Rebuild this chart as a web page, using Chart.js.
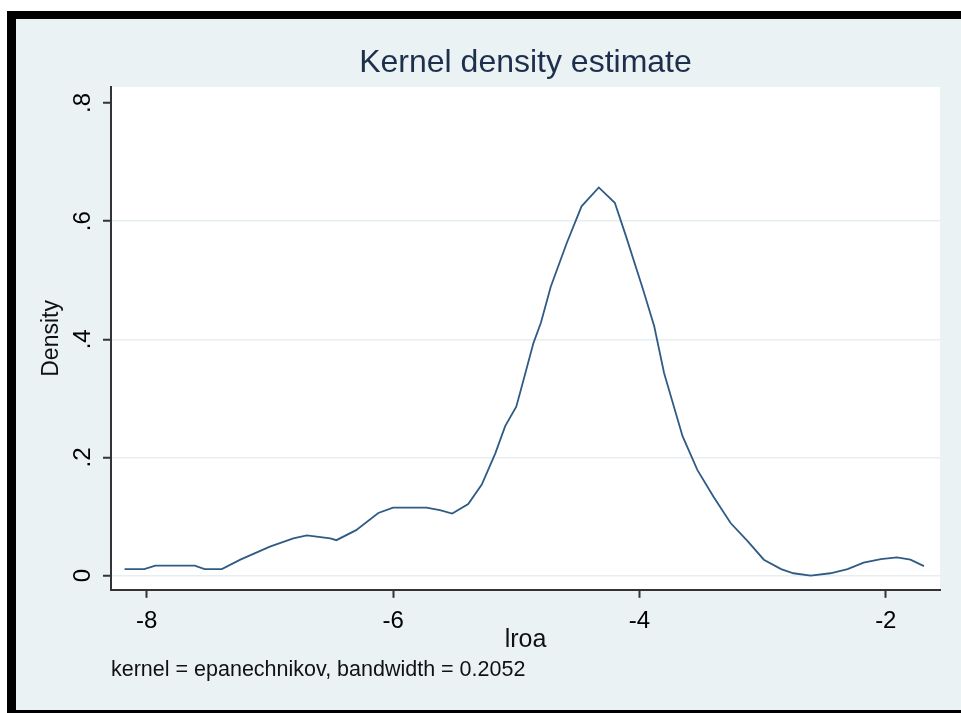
<!DOCTYPE html>
<html>
<head>
<meta charset="utf-8">
<title>Kernel density estimate</title>
<script src="https://cdn.jsdelivr.net/npm/chart.js@4.4.1/dist/chart.umd.min.js"></script>
<style>
  html, body { margin:0; padding:0; background:#fff; width:961px; height:713px; overflow:hidden; }
  /* Stata-style frame: black border top/left/bottom, light blue-grey graph region */
  #frame {
    position:absolute; left:7px; top:11px; width:954px; height:702px;
    box-sizing:border-box; background:#eaf2f3;
    border-top:8px solid #000; border-left:9px solid #000; border-bottom:3px solid #000;
  }
  #wrap { position:relative; width:945px; height:691px; }
</style>
</head>
<body>
<div id="frame"><div id="wrap"><canvas id="kde"></canvas></div></div>
<script>
/* ---------- data ---------- */
const KDE_X = [-8.18, -8.02, -7.93, -7.61, -7.53, -7.39, -7.24, -7.00, -6.81, -6.70,
               -6.51, -6.46, -6.30, -6.12, -6.00, -5.73, -5.62, -5.52, -5.39, -5.28,
               -5.17, -5.09, -5.00, -4.94, -4.86, -4.80, -4.72, -4.59, -4.47, -4.33, -4.20,
               -4.11, -3.97, -3.88, -3.80, -3.72, -3.65, -3.53, -3.40, -3.26, -3.12,
               -2.99, -2.85, -2.75, -2.61, -2.45, -2.31, -2.18, -2.04, -1.91, -1.80, -1.69];
const KDE_Y = [0.011, 0.011, 0.017, 0.017, 0.011, 0.011, 0.027, 0.049, 0.063, 0.068,
               0.063, 0.060, 0.077, 0.106, 0.115, 0.115, 0.111, 0.105, 0.121, 0.154,
               0.207, 0.253, 0.286, 0.332, 0.394, 0.428, 0.489, 0.563, 0.625, 0.657, 0.631,
               0.575, 0.484, 0.422, 0.343, 0.286, 0.236, 0.179, 0.134, 0.089, 0.058,
               0.027, 0.011, 0.004, 0.000, 0.004, 0.011, 0.022, 0.028, 0.031, 0.027, 0.016];

const X_TICKS = [-8, -6, -4, -2];
const Y_TICKS = [0, 0.2, 0.4, 0.6, 0.8];
const Y_TICK_LABELS = ['0', '.2', '.4', '.6', '.8'];

const TITLE = 'Kernel density estimate';
const X_TITLE = 'lroa';
const Y_TITLE = 'Density';
const NOTE = 'kernel = epanechnikov, bandwidth = 0.2052';

const FONT = "'Liberation Sans', Arial, sans-serif";
const LINE = '#2f5b85';
const AXIS = '#333';

// white plot region behind the curve
const plotBg = {
  id:'plotBg',
  beforeDraw(chart){
    const {ctx, chartArea:a} = chart;
    ctx.save();
    ctx.fillStyle = '#fff';
    ctx.fillRect(a.left, a.top, a.right - a.left, a.bottom - a.top);
    ctx.restore();
  }
};

new Chart(document.getElementById('kde'), {
  type:'line',
  data:{
    datasets:[{
      data: KDE_X.map((x, i) => ({x, y: KDE_Y[i]})),
      borderColor: LINE, borderWidth: 1.8,
      pointRadius: 0, tension: 0, fill: false
    }]
  },
  options:{
    responsive:true, maintainAspectRatio:false, animation:false,
    layout:{padding:{top:0, left:0, right:21, bottom:0}},
    plugins:{
      legend:{display:false}, tooltip:{enabled:false},
      title:{
        display:true, text:TITLE, fullSize:false, color:'#1e2f4d',
        font:{family:FONT, size:32, weight:'normal'},
        padding:{top:25.2, bottom:4.4}
      },
      subtitle:{
        display:true, text:NOTE, position:'bottom', align:'start', fullSize:false,
        color:'#111', font:{family:FONT, size:21.5, weight:'normal'},
        padding:{top:0, bottom:27}
      }
    },
    scales:{
      x:{
        type:'linear', min:-8.29, max:-1.56,
        afterBuildTicks: s => { s.ticks = X_TICKS.map(v => ({value:v})); },
        afterFit: s => { s.height = 67.4; },
        border:{display:true, color:AXIS, width:2},
        grid:{drawOnChartArea:false, drawTicks:true, tickLength:8, tickColor:AXIS, tickWidth:2},
        ticks:{color:'#000', font:{family:FONT, size:24}, padding:9, autoSkip:false, maxRotation:0,
               callback: v => String(v)},
        title:{display:true, text:X_TITLE, color:'#111', font:{family:FONT, size:25},
               padding:{top:0, bottom:2.4}}
      },
      y:{
        type:'linear', min:-0.024, max:0.827,
        afterBuildTicks: s => { s.ticks = Y_TICKS.map(v => ({value:v})); },
        afterFit: s => { s.width = 95; },
        border:{display:true, color:AXIS, width:2},
        grid:{
          color: c => (c.tick && c.tick.value === 0.8) ? 'rgba(0,0,0,0)' : '#e6eef1',
          lineWidth:1.5, drawTicks:true, tickLength:8, tickColor:AXIS, tickWidth:2
        },
        ticks:{color:'#000', font:{family:FONT, size:24}, padding:9.5, autoSkip:false,
               minRotation:90, maxRotation:90, crossAlign:'center',
               callback: v => Y_TICK_LABELS[Y_TICKS.indexOf(v)] ?? ''},
        title:{display:true, text:Y_TITLE, color:'#111', font:{family:FONT, size:23},
               padding:{top:22, bottom:0}}
      }
    }
  },
  plugins:[plotBg]
});
</script>
</body>
</html>
